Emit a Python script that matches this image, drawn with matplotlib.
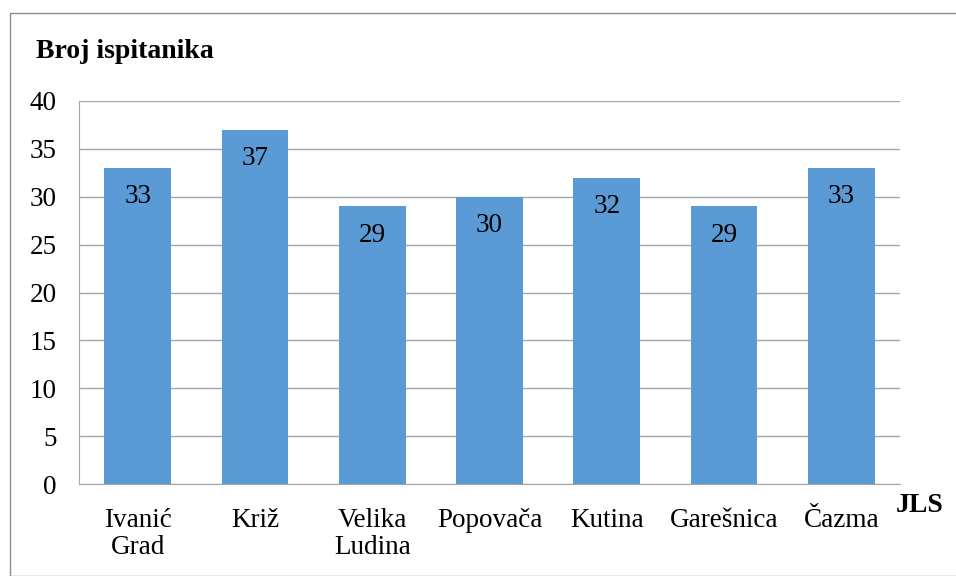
import matplotlib
matplotlib.use('Agg')
from matplotlib import pyplot as plt
from matplotlib.patches import Rectangle

plt.rcParams['font.family'] = ['Liberation Serif', 'DejaVu Serif']

categories = ['Ivanić\nGrad', 'Križ', 'Velika\nLudina', 'Popovača', 'Kutina', 'Garešnica', 'Čazma']
values = [33, 37, 29, 30, 32, 29, 33]
y_ticks = [0, 5, 10, 15, 20, 25, 30, 35, 40]

fig = plt.figure(figsize=(9.56, 5.76), dpi=100)
ax = fig.add_axes([79 / 956, 1 - 484 / 576, 821 / 956, 383 / 576])

x = list(range(len(categories)))
bars = ax.bar(x, values, width=0.57, color='#5b9bd5', zorder=3)
for xi, v in zip(x, values):
    ax.text(xi, v - 3.0, str(v), ha='center', va='center', fontsize=19.5, color='black', zorder=4)

ax.set_xlim(-0.5, len(categories) - 0.5)
ax.set_ylim(0, 40)
ax.set_yticks(y_ticks)
ax.set_xticks(x)
ax.set_xticklabels(categories, fontsize=19.5, linespacing=1.15)
ax.tick_params(axis='both', length=0, labelsize=19.5)
ax.tick_params(axis='y', pad=16)
ax.tick_params(axis='x', pad=17)
ax.yaxis.grid(True, color='#a6a6a6', linewidth=1, zorder=0)
for side in ['top', 'right']:
    ax.spines[side].set_visible(False)
ax.spines['left'].set_color('#a6a6a6')
ax.spines['bottom'].set_color('#a6a6a6')

fig.text(36 / 956, 1 - 52 / 576, 'Broj ispitanika', fontsize=20, fontweight='bold', va='center')
fig.text(920 / 956, 1 - 505 / 576, 'JLS', fontsize=20, fontweight='bold', ha='center', va='center')

fig.patches.append(Rectangle((10 / 956, 0), 1, 1 - 13 / 576, transform=fig.transFigure,
                             fill=False, edgecolor='#8c8c8c', linewidth=1))

fig.savefig('out.png', dpi=100)
